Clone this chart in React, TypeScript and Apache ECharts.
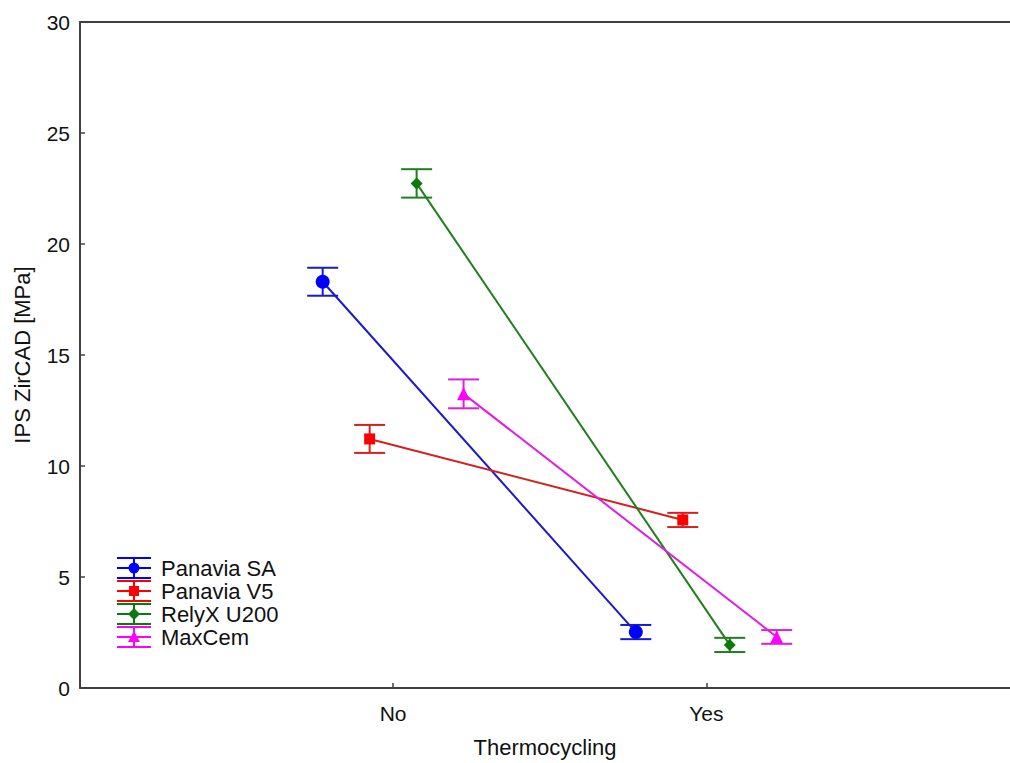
import React, { useEffect, useRef } from "react";
import * as echarts from "echarts";

const categories = ["No", "Yes"];
const seriesNames = ["Panavia SA", "Panavia V5", "RelyX U200", "MaxCem"];
const panaviaSAMean = [18.3, 2.52];
const panaviaSAErr = [0.63, 0.32];
const panaviaV5Mean = [11.22, 7.57];
const panaviaV5Err = [0.63, 0.32];
const relyXMean = [22.73, 1.94];
const relyXErr = [0.64, 0.32];
const maxCemMean = [13.25, 2.3];
const maxCemErr = [0.65, 0.31];
const yTicks = [0, 5, 10, 15, 20, 25, 30];

const means = [panaviaSAMean, panaviaV5Mean, relyXMean, maxCemMean];
const errs = [panaviaSAErr, panaviaV5Err, relyXErr, maxCemErr];
const dodge = [-0.225, -0.075, 0.075, 0.225];
const lineColors = ["#1a1ac8", "#d42020", "#1f7f1f", "#e01ee0"];
const markerColors = ["#0000ff", "#ff0000", "#0a7a0a", "#ff00ff"];
const symbols = ["circle", "rect", "diamond", "triangle"];
const symbolSizes = [14, 11, 12, 13];
const axisColor = "#404040";

const base = "M0 0 H34 V2 H0 Z M0 10 H34 V12 H0 Z M0 20 H34 V22 H0 Z M16 0 H18 V22 H16 Z ";
const iconMarks = [
  "M22.5 11 A5.5 5.5 0 1 1 11.5 11 A5.5 5.5 0 1 1 22.5 11 Z",
  "M12 6 H22 V16 H12 Z",
  "M17 5 L23 11 L17 17 L11 11 Z",
  "M17 5 L23 16 L11 16 Z",
];

const X_MAX = 2.97;

export default function App() {
  const ref = useRef<HTMLDivElement>(null);
  useEffect(() => {
    if (!ref.current) return;
    const chart = echarts.init(ref.current, undefined, { renderer: "svg" });
    const series: any[] = [];
    seriesNames.forEach((name, i) => {
      const errData = categories.map((_, c) => [
        c + 1 + dodge[i],
        means[i][c] - errs[i][c],
        means[i][c] + errs[i][c],
      ]);
      series.push({
        name: name + " err",
        type: "custom",
        silent: true,
        z: 2,
        data: errData,
        renderItem: (params: any, api: any) => {
          const x = api.value(0);
          const lo = api.coord([x, api.value(1)]);
          const hi = api.coord([x, api.value(2)]);
          const hw = 15.5;
          const style = { stroke: lineColors[i], lineWidth: 2 };
          return {
            type: "group",
            children: [
              { type: "line", shape: { x1: lo[0], y1: lo[1], x2: hi[0], y2: hi[1] }, style },
              { type: "line", shape: { x1: lo[0] - hw, y1: lo[1], x2: lo[0] + hw, y2: lo[1] }, style },
              { type: "line", shape: { x1: hi[0] - hw, y1: hi[1], x2: hi[0] + hw, y2: hi[1] }, style },
            ],
          };
        },
      });
      series.push({
        name,
        type: "line",
        z: 3,
        data: categories.map((_, c) => [c + 1 + dodge[i], means[i][c]]),
        symbol: symbols[i],
        symbolSize: symbolSizes[i],
        showSymbol: true,
        lineStyle: { color: lineColors[i], width: 2 },
        itemStyle: { color: markerColors[i], borderWidth: 0 },
      });
    });
    chart.setOption({
      animation: false,
      backgroundColor: "#ffffff",
      textStyle: { fontFamily: "Liberation Sans, Arial, sans-serif" },
      grid: {
        left: 80,
        top: 22,
        right: 0,
        bottom: 75,
        show: false,
      },
      legend: {
        orient: "vertical",
        left: 112,
        top: 552,
        itemWidth: 34,
        itemHeight: 22,
        itemGap: 1,
        selectedMode: false,
        data: seriesNames.map((n, i) => ({
          name: n,
          icon: "path://" + base + iconMarks[i],
          itemStyle: { color: markerColors[i], borderWidth: 0 },
        })),
        textStyle: { fontSize: 22, color: "#111", padding: [0, 0, 0, 5] },
        itemStyle: { borderWidth: 0 },
      },
      xAxis: [
        {
          type: "value",
          min: 0,
          max: X_MAX,
          interval: 1,
          name: "Thermocycling",
          nameLocation: "middle",
          nameGap: 48,
          nameTextStyle: { fontSize: 22, color: "#111" },
          axisLine: { show: true, onZero: false, lineStyle: { color: axisColor, width: 2 } },
          axisTick: { show: true, inside: true, length: 5, lineStyle: { color: axisColor, width: 1.5 } },
          axisLabel: {
            fontSize: 21,
            color: "#111",
            margin: 15,
            showMaxLabel: false,
            formatter: (v: number) => (v >= 1 && v <= categories.length ? categories[v - 1] : ""),
          },
          splitLine: { show: false },
        },
        {
          type: "value",
          position: "top",
          min: 0,
          max: X_MAX,
          interval: 1,
          axisLine: { show: true, onZero: false, lineStyle: { color: axisColor, width: 2 } },
          axisTick: { show: false },
          axisLabel: { show: false },
          splitLine: { show: false },
        },
      ],
      yAxis: {
        type: "value",
        min: yTicks[0],
        max: yTicks[yTicks.length - 1],
        interval: 5,
        name: "IPS ZirCAD [MPa]",
        nameLocation: "middle",
        nameGap: 47,
        nameTextStyle: { fontSize: 22, color: "#111" },
        axisLine: { show: true, onZero: false, lineStyle: { color: axisColor, width: 2 } },
        axisTick: { show: true, inside: true, length: 5, lineStyle: { color: axisColor, width: 1.5 } },
        axisLabel: { fontSize: 21, color: "#111", margin: 10 },
        splitLine: { show: false },
      },
      series,
    });
    return () => chart.dispose();
  }, []);
  return (
    <div
      ref={ref}
      style={{ position: "fixed", left: 0, top: 0, width: 1010, height: 763, background: "#fff" }}
    />
  );
}
